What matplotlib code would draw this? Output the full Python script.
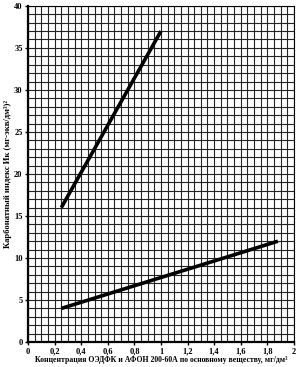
import numpy as np
import matplotlib
matplotlib.use('Agg')
import matplotlib.pyplot as plt
import matplotlib.ticker as ticker

plt.rcParams['font.family'] = ['Liberation Serif', 'DejaVu Serif']

# две прямые: концентрация -> карбонатный индекс
x_upper = [0.25, 1.0]
y_upper = [16, 37]
x_lower = [0.25, 1.88]
y_lower = [4, 12]

x_ticks = [0, 0.2, 0.4, 0.6, 0.8, 1, 1.2, 1.4, 1.6, 1.8, 2]
x_labels = ['0', '0,2', '0,4', '0,6', '0,8', '1', '1,2', '1,4', '1,6', '1,8', '2']
y_ticks = [0, 5, 10, 15, 20, 25, 30, 35, 40]

fig = plt.figure(figsize=(3.02, 3.67), dpi=100)
ax = fig.add_axes([0.093, 0.068, 0.88, 0.916])

ax.plot(x_upper, y_upper, color='black', lw=2.6, solid_capstyle='butt', zorder=3)
ax.plot(x_lower, y_lower, color='black', lw=2.6, solid_capstyle='butt', zorder=3)

ax.set_xlim(0, 2)
ax.set_ylim(0, 40)
ax.set_xticks(x_ticks)
ax.set_xticklabels(x_labels)
ax.set_yticks(y_ticks)
ax.xaxis.set_minor_locator(ticker.MultipleLocator(0.05))
ax.yaxis.set_minor_locator(ticker.MultipleLocator(1))
ax.grid(which='both', color='#222222', lw=0.8)
ax.set_axisbelow(True)

ax.tick_params(axis='both', which='major', labelsize=6, length=2.5, width=1,
               pad=1.5)
ax.tick_params(axis='both', which='minor', length=0)
for lbl in ax.get_xticklabels() + ax.get_yticklabels():
    lbl.set_fontweight('bold')

for s in ['left', 'bottom']:
    ax.spines[s].set_linewidth(1.6)
for s in ['top', 'right']:
    ax.spines[s].set_linewidth(0.8)

ax.set_xlabel('Концентрация ОЭДФК и АФОН 200-60А по основному веществу, мг/дм³',
              fontsize=5.6, fontweight='bold', labelpad=0.5)
ax.set_ylabel('Карбонатный индекс Ик (мг-экв/дм³)²',
              fontsize=6.2, fontweight='bold', labelpad=1.5)

fig.savefig('out.png', dpi=100)
